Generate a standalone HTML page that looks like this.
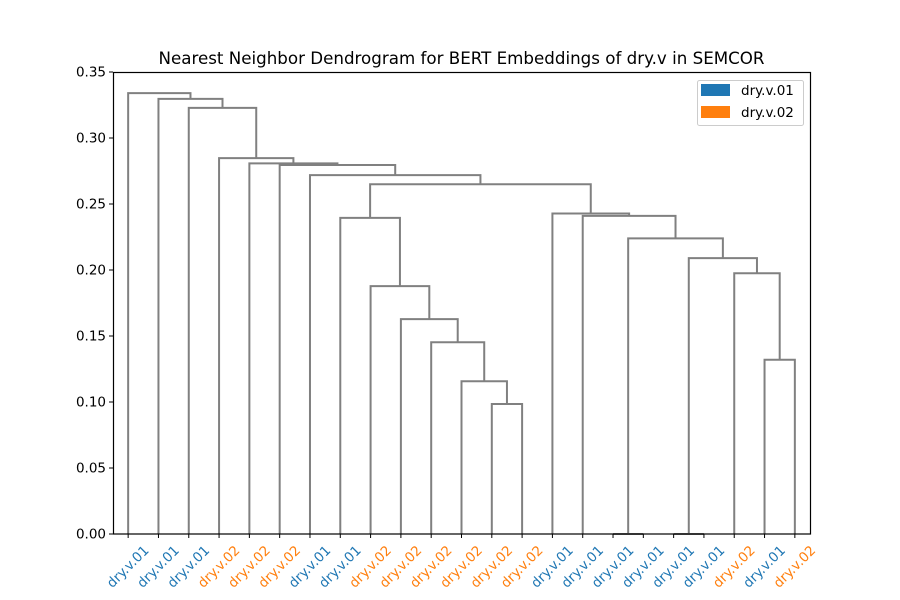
<!DOCTYPE html>
<html><head><meta charset="utf-8"><style>
html,body{margin:0;padding:0;background:#fff}
svg{display:block;font-family:"DejaVu Sans","Liberation Sans",sans-serif}
</style></head><body>
<svg id="chart" width="900" height="600" viewBox="0 0 900 600" xmlns="http://www.w3.org/2000/svg">
<text x="461.5" y="64" text-anchor="middle" font-size="16.7">Nearest Neighbor Dendrogram for BERT Embeddings of dry.v in SEMCOR</text>
<g id="links"></g>
<g id="yaxis"></g>
<g id="xaxis"></g>
<rect x="113.5" y="72.5" width="697" height="461.5" fill="none" stroke="#000" stroke-width="1.2"/>
<g>
<rect x="697.5" y="80.5" width="106" height="45" rx="2" fill="#fff" stroke="#ccc" stroke-width="1"/>
<rect x="701" y="84" width="29" height="12" fill="#1f77b4"/>
<text x="741" y="95" font-size="13.5">dry.v.01</text>
<rect x="701" y="106" width="29" height="12" fill="#ff7f0e"/>
<text x="741" y="117" font-size="13.5">dry.v.02</text>
</g>
</svg>
<script>
const leafLabels = ["dry.v.01","dry.v.01","dry.v.01","dry.v.02","dry.v.02","dry.v.02","dry.v.01","dry.v.01","dry.v.02","dry.v.02","dry.v.02","dry.v.02","dry.v.02","dry.v.02","dry.v.01","dry.v.01","dry.v.01","dry.v.01","dry.v.01","dry.v.01","dry.v.02","dry.v.01","dry.v.02"];
const mergeLeft  = [16,18,12,11,21,10,9,8,20,24,23,7,15,14,34,6,5,4,3,2,1,0];
const mergeRight = [17,19,13,25,22,26,28,29,27,31,32,30,33,35,36,37,38,39,40,41,42,43];
const mergeHeight= [0.0,0.0,0.0985,0.1157,0.132,0.1453,0.1628,0.1878,0.1975,0.209,0.224,0.2395,0.241,0.2428,0.265,0.2719,0.2795,0.2808,0.2848,0.3228,0.3296,0.334];
const yTicks = [0,0.05,0.10,0.15,0.20,0.25,0.30,0.35];
const yTickLabels = ["0.00","0.05","0.10","0.15","0.20","0.25","0.30","0.35"];

const NS="http://www.w3.org/2000/svg";
const X0=113,X1=810,Y0=534,Y1=72,YMAX=0.35;
const n=leafLabels.length;
const xs=i=>X0+(5+10*i)/(10*n)*(X1-X0);
const ys=v=>Y0-v/YMAX*(Y0-Y1);
const colors={"dry.v.01":"#1f77b4","dry.v.02":"#ff7f0e"};
const pos=[],ht=[];
for(let i=0;i<n;i++){pos[i]=xs(i);ht[i]=0;}
const links=document.getElementById('links');
for(let k=0;k<mergeLeft.length;k++){
  const a=mergeLeft[k],b=mergeRight[k],h=mergeHeight[k];
  const xa=pos[a],xb=pos[b],yh=ys(h);
  const p=document.createElementNS(NS,'path');
  p.setAttribute('d',`M${xa},${ys(ht[a])}V${yh}H${xb}V${ys(ht[b])}`);
  p.setAttribute('fill','none');p.setAttribute('stroke','#808080');p.setAttribute('stroke-width','2');
  
  
  links.appendChild(p);
  pos[n+k]=(xa+xb)/2;ht[n+k]=h;
}
const ya=document.getElementById('yaxis');
yTicks.forEach((v,i)=>{
  const y=ys(v);
  const l=document.createElementNS(NS,'line');
  l.setAttribute('x1',X0-4);l.setAttribute('x2',X0);l.setAttribute('y1',y);l.setAttribute('y2',y);l.setAttribute('stroke','#000');
  
  
  ya.appendChild(l);
  const t=document.createElementNS(NS,'text');
  t.setAttribute('x',X0-7);t.setAttribute('y',y+4.5);t.setAttribute('text-anchor','end');t.setAttribute('font-size','13.5');
  t.textContent=yTickLabels[i];
  
  
  ya.appendChild(t);
});
const xa=document.getElementById('xaxis');
leafLabels.forEach((lab,i)=>{
  const x=xs(i);
  const l=document.createElementNS(NS,'line');
  l.setAttribute('x1',x);l.setAttribute('x2',x);l.setAttribute('y1',Y0);l.setAttribute('y2',Y0+4);l.setAttribute('stroke','#000');
  
  
  xa.appendChild(l);
  const t=document.createElementNS(NS,'text');
  t.setAttribute('transform',`translate(${x},${567}) rotate(-45)`);
  t.setAttribute('text-anchor','middle');t.setAttribute('dominant-baseline','central');
  t.setAttribute('font-size','13.5');t.setAttribute('fill',colors[lab]);
  t.textContent=lab;
  
  
  xa.appendChild(t);
});
</script>
</body></html>
